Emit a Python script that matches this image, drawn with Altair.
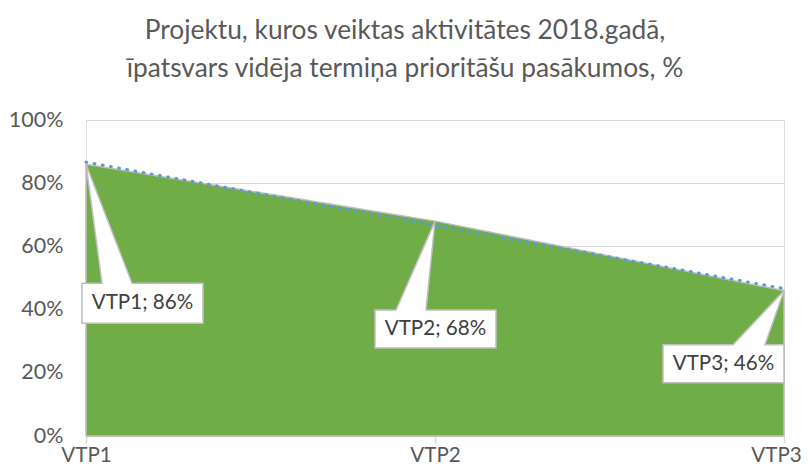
import altair as alt
import pandas as pd

categories = ["VTP1", "VTP2", "VTP3"]
positions = [1, 2, 3]
values = [86, 68, 46]
y_ticks = [0, 20, 40, 60, 80, 100]
title_lines = [
    "Projektu, kuros veiktas aktivitātes 2018.gadā,",
    "īpatsvars vidēja termiņa prioritāšu pasākumos, %",
]

df = pd.DataFrame({"idx": positions, "cat": categories, "value": values})
df["label"] = [f"{c}; {v}%" for c, v in zip(categories, values)]

FONT = "Lato"
GRAY_TXT = "#595959"
LBL = 20.6
label_expr = "[" + ",".join(f"'{c}'" for c in categories) + "][datum.value-1]"

x_enc = alt.X(
    "idx:Q",
    scale=alt.Scale(domain=[1, 3], nice=False, zero=False),
    axis=alt.Axis(
        values=positions, labelExpr=label_expr, title=None, grid=False,
        domainColor="#D9D9D9", domainWidth=1.5, tickColor="#D9D9D9", tickSize=7,
        tickWidth=1.5, labelFont=FONT, labelFontSize=LBL, labelColor=GRAY_TXT,
        labelPadding=2, labelFlush=False, labelOverlap=False, labelBound=False,
        labelOffset={"condition": {"test": f"datum.value == {positions[-1]}", "value": -8}, "value": 0},
    ),
)
y_enc = alt.Y(
    "value:Q",
    scale=alt.Scale(domain=[0, 100], nice=False),
    axis=alt.Axis(
        values=y_ticks, labelExpr="datum.value + '%'", title=None, grid=True,
        gridColor="#D9D9D9", gridWidth=1.2, domain=False, ticks=False,
        labelFont=FONT, labelFontSize=21.5, labelColor=GRAY_TXT, labelPadding=23,
    ),
)

base = alt.Chart(df)

area = base.mark_area(
    color="#70AD47", opacity=1, stroke="#BFBFBF", strokeWidth=1.5
).encode(x=x_enc, y=y_enc)

trend = base.transform_regression(
    "idx", "value", method="linear", extent=[1, 3]
).mark_line(
    color="#5B9BD5", strokeWidth=3, strokeDash=[0.8, 7.5], strokeCap="round"
).encode(x="idx:Q", y="value:Q")

# callout shapes (relative pixel geometry of box + pointer), one per point
callout_paths = [
    "M0,0 L16,119 L-4,119 L-4,159 L117,159 L117,119 L46,119 Z",
    "M0,0 L-9,89 L61,89 L61,127 L-60,127 L-60,89 L-39,89 Z",
    "M0,0 L-19,54 L0,54 L0,92 L-121,92 L-121,54 L-51,54 Z",
]
text_offsets = [(56.5, 139), (0.5, 108), (-60.5, 73)]

layers = [area, trend]
for cat, path, (dx, dy) in zip(categories, callout_paths, text_offsets):
    sub = base.transform_filter(alt.datum.cat == cat)
    layers.append(
        sub.mark_point(
            shape=path, size=4, filled=True, fill="white", stroke="#BFBFBF",
            strokeWidth=1.5, opacity=1, strokeJoin="miter",
        ).encode(x="idx:Q", y="value:Q")
    )
    layers.append(
        sub.mark_text(
            font=FONT, fontSize=LBL, color="#404040", dx=dx, dy=dy,
            align="center", baseline="middle",
        ).encode(x="idx:Q", y="value:Q", text="label:N")
    )

chart = alt.layer(*layers).properties(
    width=698,
    height=316,
    title=alt.TitleParams(
        text=title_lines, font=FONT, fontSize=26.3, fontWeight="normal",
        color=GRAY_TXT, anchor="middle", dx=-30, dy=3, offset=30, lineHeight=38,
    ),
    autosize=alt.AutoSizeParams(type="none"),
    padding={"left": 78, "top": 112, "right": 19, "bottom": 32},
).configure_view(stroke=None).configure(background="white")

chart.save("out.html", embed_options={"renderer": "svg", "actions": False})
